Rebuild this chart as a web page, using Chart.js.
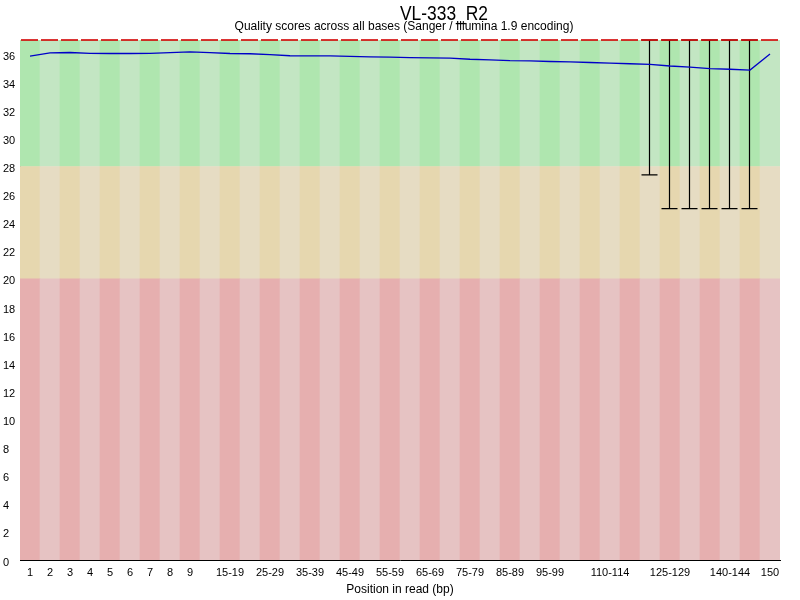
<!DOCTYPE html>
<html>
<head>
<meta charset="utf-8">
<script src="https://cdn.jsdelivr.net/npm/chart.js@4.4.1/dist/chart.umd.min.js"></script>
<style>
  html, body { margin: 0; padding: 0; background: #fff; }
</style>
</head>
<body>
<canvas id="qualChart" width="800" height="600"></canvas>
<script>
const chartTitle = 'VL-333_R2';
const chartSubtitle = 'Quality scores across all bases (Sanger / Illumina 1.9 encoding)';
const xTitle = 'Position in read (bp)';

const positions = ['1', '2', '3', '4', '5', '6', '7', '8', '9',
  '10-14', '15-19', '20-24', '25-29', '30-34', '35-39', '40-44', '45-49',
  '50-54', '55-59', '60-64', '65-69', '70-74', '75-79', '80-84', '85-89',
  '90-94', '95-99', '100-104', '105-109', '110-114', '115-119', '120-124',
  '125-129', '130-134', '135-139', '140-144', '145-149', '150'];
const shownLabels = ['1', '2', '3', '4', '5', '6', '7', '8', '9', '15-19', '25-29',
  '35-39', '45-49', '55-59', '65-69', '75-79', '85-89', '95-99', '110-114',
  '125-129', '140-144', '150'];

const meanQ = [35.85, 36.08, 36.11, 36.05, 36.04, 36.04, 36.05, 36.10, 36.16,
  36.10, 36.04, 36.02, 35.96, 35.88, 35.87, 35.87, 35.84, 35.80, 35.78,
  35.74, 35.73, 35.71, 35.63, 35.59, 35.53, 35.52, 35.47, 35.45, 35.40,
  35.36, 35.31, 35.27, 35.15, 35.07, 34.96, 34.92, 34.86, 36.00];
const medianQ = [37, 37, 37, 37, 37, 37, 37, 37, 37, 37, 37, 37, 37, 37, 37, 37, 37, 37, 37,
  37, 37, 37, 37, 37, 37, 37, 37, 37, 37, 37, 37, 37, 37, 37, 37, 37, 37, 37];
const p10 = [37, 37, 37, 37, 37, 37, 37, 37, 37, 37, 37, 37, 37, 37, 37, 37, 37, 37, 37,
  37, 37, 37, 37, 37, 37, 37, 37, 37, 37, 37, 37, 27.4, 25, 25, 25, 25, 25, 37];
const p90 = [37, 37, 37, 37, 37, 37, 37, 37, 37, 37, 37, 37, 37, 37, 37, 37, 37, 37, 37,
  37, 37, 37, 37, 37, 37, 37, 37, 37, 37, 37, 37, 37, 37, 37, 37, 37, 37, 37];

// quality zones: red below 20, orange 20-28, green 28 to top
const zoneBottoms = [0, 20, 28];
const zoneTops = [20, 28, 37];
const zoneDark = ['rgb(230,175,175)', 'rgb(230,215,175)', 'rgb(175,230,175)'];
const zoneLight = ['rgb(230,195,195)', 'rgb(230,220,195)', 'rgb(195,230,195)'];

const zoneSets = zoneTops.map(function (top, z) {
  return {
    type: 'bar',
    stack: 'zones',
    data: positions.map(() => top - zoneBottoms[z]),
    backgroundColor: positions.map((p, i) => i % 2 === 0 ? zoneDark[z] : zoneLight[z]),
    borderWidth: 0,
    barPercentage: 1,
    categoryPercentage: 1
  };
});

// whiskers + median, drawn under the mean line
const boxPlugin = {
  id: 'boxes',
  beforeDatasetDraw(chart, args) {
    if (args.index !== 0) return;
    const ctx = chart.ctx;
    const xs = chart.scales.x, ys = chart.scales.y;
    ctx.save();
    ctx.strokeStyle = '#000';
    ctx.lineWidth = 1.2;
    for (let i = 0; i < positions.length; i++) {
      if (p10[i] >= p90[i]) continue;
      const x = Math.round(xs.getPixelForValue(i)) - 0.5;
      const yLo = ys.getPixelForValue(p10[i]);
      const yHi = ys.getPixelForValue(p90[i]);
      ctx.beginPath();
      ctx.moveTo(x, yLo); ctx.lineTo(x, yHi);
      ctx.moveTo(x - 8, yLo); ctx.lineTo(x + 8, yLo);
      ctx.moveTo(x - 8, yHi); ctx.lineTo(x + 8, yHi);
      ctx.stroke();
    }
    ctx.strokeStyle = 'rgb(210,0,0)';
    ctx.lineWidth = 1.6;
    for (let i = 0; i < positions.length; i++) {
      const x = xs.getPixelForValue(i);
      const y = ys.getPixelForValue(medianQ[i]);
      ctx.beginPath();
      ctx.moveTo(x - 9, y); ctx.lineTo(x + 8, y);
      ctx.stroke();
    }
    ctx.restore();
  }
};

const titlePlugin = {
  id: 'titles',
  afterDraw(chart) {
    const ctx = chart.ctx;
    ctx.save();
    ctx.fillStyle = '#000';
    ctx.textAlign = 'center';
    ctx.textBaseline = 'alphabetic';
    ctx.font = '12px "Liberation Sans", Arial, sans-serif';
    ctx.fillText(chartSubtitle, 404, 30);
    // title font is narrow in the original, squeeze it a bit
    ctx.font = '20px "Liberation Sans", Arial, sans-serif';
    ctx.translate(444, 19.5);
    ctx.scale(0.87, 1);
    ctx.fillText(chartTitle, 0, 0);
    ctx.restore();
  }
};

Chart.defaults.font.family = '"Liberation Sans", Arial, sans-serif';
Chart.defaults.color = '#000';

new Chart(document.getElementById('qualChart'), {
  type: 'bar',
  data: {
    labels: positions,
    datasets: [{
      type: 'line',
      stack: 'mean',
      data: meanQ,
      borderColor: 'rgb(0,0,200)',
      borderWidth: 1.3,
      pointRadius: 0,
      tension: 0,
      fill: false
    }].concat(zoneSets)
  },
  options: {
    responsive: false,
    animation: false,
    devicePixelRatio: 1,
    layout: { padding: { left: 3, right: 20, top: 40, bottom: 0 } },
    plugins: {
      legend: { display: false },
      tooltip: { enabled: false },
      title: { display: false }
    },
    scales: {
      x: {
        stacked: true,
        grid: { display: false, drawTicks: false },
        border: { display: true, color: '#000', width: 1 },
        ticks: {
          autoSkip: false,
          maxRotation: 0,
          padding: 6,
          font: { size: 11 },
          callback: function (v, i) {
            return shownLabels.includes(positions[i]) ? positions[i] : '';
          }
        },
        title: { display: true, text: xTitle, font: { size: 12 }, padding: { top: 0, bottom: 3 } },
        afterFit: function (s) { s.height = 40; }
      },
      y: {
        stacked: true,
        min: 0,
        max: 37,
        grid: { display: false, drawTicks: false },
        border: { display: true, color: '#000', width: 1 },
        ticks: {
          stepSize: 2,
          includeBounds: false,
          crossAlign: 'far',
          labelOffset: 2.5,
          font: { size: 11 }
        },
        afterFit: function (s) { s.width = 17; }
      }
    }
  },
  plugins: [boxPlugin, titlePlugin]
});
</script>
</body>
</html>
